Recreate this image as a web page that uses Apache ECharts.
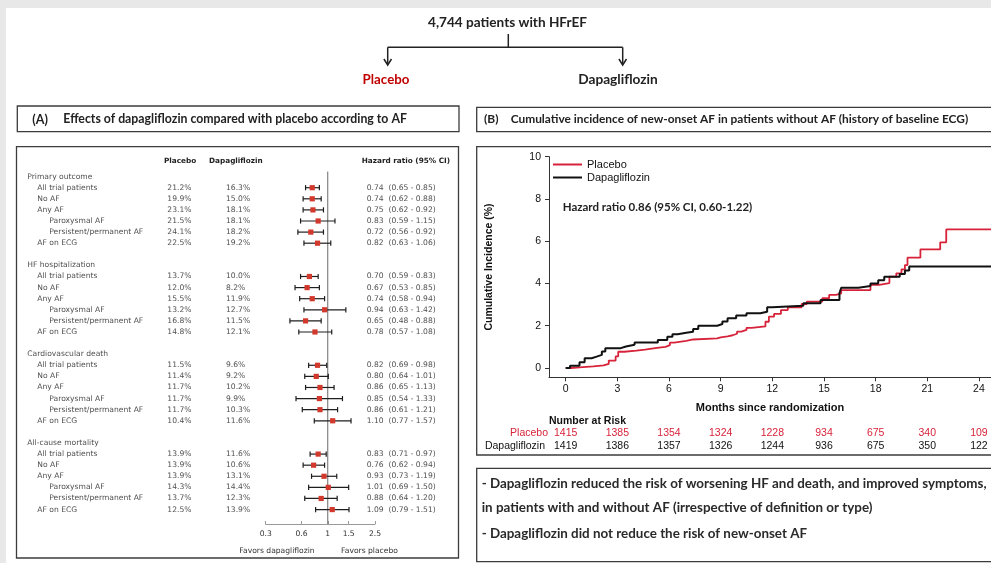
<!DOCTYPE html>
<html>
<head>
<meta charset="utf-8">
<script src="https://cdn.jsdelivr.net/npm/echarts@6/dist/echarts.min.js"></script>
<style>html,body{margin:0;padding:0;background:#e8e8e8;overflow:hidden}#c{width:991px;height:563px}</style>
</head>
<body>
<div id="c"></div>
<script>
// ---------- DATA ----------
const groups = ['Primary outcome', 'HF hospitalization', 'Cardiovascular death', 'All-cause mortality'];
const subgroups = ['All trial patients', 'No AF', 'Any AF', 'Paroxysmal AF', 'Persistent/permanent AF', 'AF on ECG'];
const subgroupLevel = [1, 1, 1, 2, 2, 1];
const placeboPct = [21.2, 19.9, 23.1, 21.5, 24.1, 22.5,
                    13.7, 12.0, 15.5, 13.2, 16.8, 14.8,
                    11.5, 11.4, 11.7, 11.7, 11.7, 10.4,
                    13.9, 13.9, 13.9, 14.3, 13.7, 12.5];
const dapaPct = [16.3, 15.0, 18.1, 18.1, 18.2, 19.2,
                 10.0, 8.2, 11.9, 12.7, 11.5, 12.1,
                 9.6, 9.2, 10.2, 9.9, 10.3, 11.6,
                 11.6, 10.6, 13.1, 14.4, 12.3, 13.9];
const hazardRatio = [0.74, 0.74, 0.75, 0.83, 0.72, 0.82,
                     0.70, 0.67, 0.74, 0.94, 0.65, 0.78,
                     0.82, 0.80, 0.86, 0.85, 0.86, 1.10,
                     0.83, 0.76, 0.93, 1.01, 0.88, 1.09];
const ciLow = [0.65, 0.62, 0.62, 0.59, 0.56, 0.63,
               0.59, 0.53, 0.58, 0.63, 0.48, 0.57,
               0.69, 0.64, 0.65, 0.54, 0.61, 0.77,
               0.71, 0.62, 0.73, 0.69, 0.64, 0.79];
const ciHigh = [0.85, 0.88, 0.92, 1.15, 0.92, 1.06,
                0.83, 0.85, 0.94, 1.42, 0.88, 1.08,
                0.98, 1.01, 1.13, 1.33, 1.21, 1.57,
                0.97, 0.94, 1.19, 1.50, 1.20, 1.51];
const forestTicks = [0.3, 0.6, 1, 1.5, 2.5];
const referenceHR = 1;

const monthTicks = [0, 3, 6, 9, 12, 15, 18, 21, 24];
const incidenceTicks = [0, 2, 4, 6, 8, 10];
const riskPlacebo = [1415, 1385, 1354, 1324, 1228, 934, 675, 340, 109];
const riskDapa = [1419, 1386, 1357, 1326, 1244, 936, 675, 350, 122];
const placeboKM = [[0,0],[0.3,0.03],[0.8,0.08],[1.6,0.12],[2.2,0.2],[2.5,0.35],[2.9,0.55],[3.05,0.77],[3.4,0.82],[4.1,0.87],[4.6,0.95],[5.3,1.0],[5.8,1.08],[6.05,1.2],[6.3,1.28],[7.0,1.35],[7.4,1.4],[8.8,1.45],[9.0,1.5],[9.4,1.55],[9.7,1.62],[9.95,1.72],[10.2,1.8],[10.5,1.9],[10.8,1.97],[11.6,2.19],[11.8,2.43],[12.1,2.56],[12.5,2.74],[12.9,2.87],[13.7,3.03],[14.0,3.14],[14.9,3.3],[15.3,3.46],[15.7,3.53],[16.0,3.69],[17.7,3.93],[18.2,4.02],[18.8,4.32],[19.2,4.48],[19.5,4.67],[19.7,4.87],[19.85,5.22],[20.6,5.61],[21.75,5.95],[22.1,6.56],[25,6.56]];
const dapaKM = [[0,0],[0.25,0.11],[0.8,0.27],[1.1,0.46],[1.5,0.54],[1.8,0.62],[2.1,0.78],[2.3,0.94],[3.2,1.02],[3.5,1.1],[4.0,1.21],[5.35,1.33],[5.9,1.48],[6.2,1.6],[6.5,1.67],[7.0,1.72],[7.4,1.85],[7.7,2.0],[8.8,2.08],[9.1,2.2],[9.4,2.36],[9.9,2.48],[10.5,2.59],[11.3,2.66],[11.7,2.88],[12.0,2.95],[13.8,3.06],[14.8,3.22],[15.9,3.55],[16.0,3.8],[17.0,3.88],[17.7,4.0],[18.15,4.15],[18.5,4.32],[19.4,4.45],[19.7,4.61],[19.95,4.8],[25,4.8]];

// ---------- LAYOUT ----------
const RED = '#d7233a', TITLE_RED = '#c00000', FRAME = '#3c3c3c';
const TBL_FONT = 'DejaVu Sans', TBL_SIZE = 7.6, HDR_SIZE = 7.3;
const CAL = 'Lato', ARIAL = 'Liberation Sans';
const rowsPerGroup = 8;
const rowOf = (g, s) => g * rowsPerGroup + 1 + s;
const colGroupX = 27.3, levelX = [27.3, 37.3, 49.3], colPlaceboX = 167.3, colDapaX = 226, colHrX = 366.7;

const tableText = [];
const forestData = [];
groups.forEach((gName, g) => {
  tableText.push({ name: gName, value: [colGroupX, g * rowsPerGroup] });
  subgroups.forEach((sName, s) => {
    const i = g * subgroups.length + s, r = rowOf(g, s);
    tableText.push({ name: sName, value: [levelX[subgroupLevel[s]], r] });
    tableText.push({ name: placeboPct[i].toFixed(1) + '%', value: [colPlaceboX, r] });
    tableText.push({ name: dapaPct[i].toFixed(1) + '%', value: [colDapaX, r] });
    tableText.push({ name: hazardRatio[i].toFixed(2) + '  (' + ciLow[i].toFixed(2) + ' - ' + ciHigh[i].toFixed(2) + ')', value: [colHrX, r] });
    forestData.push([ciLow[i], ciHigh[i], r, hazardRatio[i]]);
  });
});

function txt(text, x, y, opt) {
  opt = opt || {};
  return { type: 'text', z: 5, style: Object.assign({
    text: text, x: x, y: y, align: opt.align || 'left', textAlign: opt.align || 'left',
    verticalAlign: 'middle', textVerticalAlign: 'middle',
    fontSize: 12, fontFamily: CAL, fontWeight: 'bold', fill: '#222'
  }, opt.style || {}) };
}
function rect(x, y, w, h) {
  return { type: 'rect', z: 1, shape: { x: x, y: y, width: w, height: h }, style: { fill: null, stroke: FRAME, lineWidth: 1.3 } };
}
function seg(x1, y1, x2, y2) {
  return { type: 'line', z: 2, shape: { x1: x1, y1: y1, x2: x2, y2: y2 }, style: { stroke: '#222', lineWidth: 1.5 } };
}
function arrow(x, y) {
  return { type: 'polyline', z: 2, shape: { points: [[x - 3.8, y - 6], [x, y], [x + 3.8, y - 6]] }, style: { stroke: '#222', lineWidth: 1.5, fill: null } };
}

const tblHdr = { fontFamily: TBL_FONT, fontSize: HDR_SIZE, fill: '#222' };
const tblNote = { fontFamily: TBL_FONT, fontSize: TBL_SIZE, fontWeight: 'normal', fill: '#333' };
const concl = { fontSize: 13.4, fontWeight: 'bold', fill: '#2a2a2a' };
const graphics = [
  { type: 'rect', z: 0, shape: { x: 6, y: 8, width: 1000, height: 600 }, style: { fill: '#ffffff' } },
  txt('4,744 patients with HFrEF', 507.5, 22.3, { align: 'center', style: { fontSize: 13.6 } }),
  seg(508.3, 34, 508.3, 47.3), seg(387.7, 47.3, 622.7, 47.3),
  seg(387.7, 47.3, 387.7, 64.5), seg(622.7, 47.3, 622.7, 64.5),
  arrow(387.7, 65), arrow(622.7, 65),
  txt('Placebo', 386, 80, { align: 'center', style: { fill: TITLE_RED, fontSize: 13.3 } }),
  txt('Dapagliflozin', 618, 80, { align: 'center', style: { fontSize: 13.7 } }),
  rect(17.3, 106, 441.7, 25.7), rect(476.7, 107.3, 600, 24.4),
  txt('(A)', 32.3, 119.5, { style: { fontSize: 12.5 } }),
  txt('Effects of dapagliflozin compared with placebo according to AF', 63.3, 119.5, { style: { fontSize: 12.3 } }),
  txt('(B)', 484, 119, { style: { fontSize: 12 } }),
  txt('Cumulative incidence of new-onset AF in patients without AF (history of baseline ECG)', 510.7, 119, { style: { fontSize: 11.9 } }),
  rect(16.5, 146.7, 442, 411.3), rect(476.7, 146.7, 600, 308.3), rect(476.7, 468.3, 600, 93.4),
  // forest headers
  txt('Placebo', 164, 160.7, { style: tblHdr }),
  txt('Dapagliflozin', 209, 160.7, { style: tblHdr }),
  txt('Hazard ratio (95% CI)', 361.7, 160.7, { style: tblHdr }),
  txt('Favors dapagliflozin', 277, 550.7, { align: 'center', style: tblNote }),
  txt('Favors placebo', 369.5, 550.7, { align: 'center', style: tblNote }),
  // KM annotations
  txt('Hazard ratio 0.86 (95% CI, 0.60-1.22)', 562.7, 207.7, { style: { fontSize: 11.5 } }),
  txt('Number at Risk', 549, 421, { style: { fontFamily: ARIAL, fontSize: 10.5, fill: '#111' } }),
  txt('Placebo', 548, 432.7, { align: 'right', style: { fontFamily: ARIAL, fontSize: 10.5, fontWeight: 'normal', fill: RED } }),
  txt('Dapagliflozin', 545, 446, { align: 'right', style: { fontFamily: ARIAL, fontSize: 10.5, fontWeight: 'normal', fill: '#111' } }),
  // conclusions
  txt('- Dapagliflozin reduced the risk of worsening HF and death, and improved symptoms,', 481.7, 484, { style: concl }),
  txt('in patients with and without AF (irrespective of definition or type)', 481.7, 507.5, { style: concl }),
  txt('- Dapagliflozin did not reduce the risk of new-onset AF', 481.7, 534, { style: concl })
];

const rowMin = -1, rowMax = 31.3;
const kmXMin = -0.97, kmXMax = 24.7;
const riskAxis = (offset, arr, color) => ({
  gridIndex: 2, type: 'value', position: 'bottom', offset: offset, min: kmXMin, max: kmXMax,
  axisLine: { show: false, onZero: false }, axisTick: { show: false }, splitLine: { show: false },
  axisLabel: { customValues: monthTicks, formatter: v => String(arr[Math.round(v / 3)]), color: color, fontSize: 10.5, fontFamily: ARIAL, margin: 5 }
});

const option = {
  backgroundColor: '#e8e8e8',
  animation: false,
  textStyle: { fontFamily: ARIAL },
  graphic: graphics,
  legend: {
    data: ['Placebo', 'Dapagliflozin'], orient: 'vertical', left: 553, top: 159,
    icon: 'rect', itemWidth: 29, itemHeight: 2, itemGap: 2, padding: 0,
    textStyle: { fontSize: 11, color: '#111', fontFamily: ARIAL }, selectedMode: false
  },
  grid: [
    { left: 265.7, width: 109.3, top: 165.5, height: 358.5, outerBoundsMode: 'none', containLabel: false },
    { left: 0, width: 991, top: 165.5, height: 358.5, outerBoundsMode: 'none', containLabel: false },
    { left: 549, right: 0, top: 156.7, height: 220.6, outerBoundsMode: 'none', containLabel: false }
  ],
  xAxis: [
    { gridIndex: 0, type: 'log', logBase: 10, min: 0.3, max: 2.5, position: 'bottom',
      axisLine: { show: true, onZero: false, lineStyle: { color: '#9a9a9a', width: 1 } },
      axisTick: { show: true, inside: true, length: 3, customValues: forestTicks, lineStyle: { color: '#9a9a9a' } },
      axisLabel: { customValues: forestTicks, formatter: v => String(Math.round(v * 10) / 10), fontSize: TBL_SIZE, fontFamily: TBL_FONT, color: '#333', margin: 6 },
      splitLine: { show: false }, minorTick: { show: false } },
    { gridIndex: 1, type: 'value', min: 0, max: 991, show: false },
    { gridIndex: 2, type: 'value', min: kmXMin, max: kmXMax,
      name: 'Months since randomization', nameLocation: 'middle', nameGap: 25,
      nameTextStyle: { fontSize: 11, fontWeight: 'bold', color: '#111', fontFamily: ARIAL },
      axisLine: { show: true, onZero: false, lineStyle: { color: '#333', width: 1 } },
      axisTick: { show: true, length: 4, customValues: monthTicks, lineStyle: { color: '#333' } },
      axisLabel: { customValues: monthTicks, fontSize: 10.5, color: '#111', fontFamily: ARIAL, margin: 6 },
      splitLine: { show: false } },
    riskAxis(45, riskPlacebo, RED),
    riskAxis(58.5, riskDapa, '#111')
  ],
  yAxis: [
    { gridIndex: 0, type: 'value', inverse: true, min: rowMin, max: rowMax, show: false },
    { gridIndex: 1, type: 'value', inverse: true, min: rowMin, max: rowMax, show: false },
    { gridIndex: 2, type: 'value', min: -0.44, max: 10,
      name: 'Cumulative Incidence (%)', nameLocation: 'middle', nameGap: 54, nameRotate: 90,
      nameTextStyle: { fontSize: 10.5, fontWeight: 'bold', color: '#111', fontFamily: ARIAL },
      axisLine: { show: true, onZero: false, lineStyle: { color: '#333', width: 1 } },
      axisTick: { show: true, length: 4, customValues: incidenceTicks, lineStyle: { color: '#333' } },
      axisLabel: { customValues: incidenceTicks, fontSize: 10.5, color: '#111', fontFamily: ARIAL, margin: 8 },
      splitLine: { show: false } }
  ],
  series: [
    { type: 'line', xAxisIndex: 0, yAxisIndex: 0, data: [[referenceHR, -0.45], [referenceHR, rowMax]],
      symbol: 'none', lineStyle: { color: '#6a6a6a', width: 1 }, silent: true, z: 2 },
    { type: 'custom', xAxisIndex: 0, yAxisIndex: 0, data: forestData, encode: { x: [0, 1, 3], y: 2 }, z: 3, silent: true,
      renderItem: function (params, api) {
        const lo = api.value(0), hi = api.value(1), r = api.value(2), hr = api.value(3);
        const p1 = api.coord([lo, r]), p2 = api.coord([hi, r]), pc = api.coord([hr, r]);
        const st = { stroke: '#1e1e1e', lineWidth: 1.2 };
        const s = 5.2;
        return { type: 'group', children: [
          { type: 'line', shape: { x1: p1[0], y1: p1[1], x2: p2[0], y2: p2[1] }, style: st },
          { type: 'line', shape: { x1: p1[0], y1: p1[1] - 2.6, x2: p1[0], y2: p1[1] + 2.6 }, style: st },
          { type: 'line', shape: { x1: p2[0], y1: p2[1] - 2.6, x2: p2[0], y2: p2[1] + 2.6 }, style: st },
          { type: 'rect', shape: { x: pc[0] - s / 2, y: pc[1] - s / 2, width: s, height: s }, style: { fill: '#d3382c' } }
        ] };
      } },
    { type: 'scatter', xAxisIndex: 1, yAxisIndex: 1, data: tableText, symbolSize: 0, silent: true,
      itemStyle: { color: 'rgba(0,0,0,0)' },
      label: { show: true, position: 'right', distance: 0, formatter: '{b}', fontSize: TBL_SIZE, fontFamily: TBL_FONT, color: '#222' } },
    { name: 'Placebo', type: 'line', xAxisIndex: 2, yAxisIndex: 2, data: placeboKM, step: 'end', showSymbol: false, symbol: 'none',
      color: RED, itemStyle: { color: RED }, lineStyle: { color: RED, width: 1.8 }, z: 3, silent: true },
    { name: 'Dapagliflozin', type: 'line', xAxisIndex: 2, yAxisIndex: 2, data: dapaKM, step: 'end', showSymbol: false, symbol: 'none',
      color: '#111', itemStyle: { color: '#111' }, lineStyle: { color: '#111', width: 2 }, z: 4, silent: true }
  ]
};

const chart = echarts.init(document.getElementById('c'), null, { renderer: 'canvas', width: 991, height: 563 });
chart.setOption(option);
</script>
</body>
</html>
